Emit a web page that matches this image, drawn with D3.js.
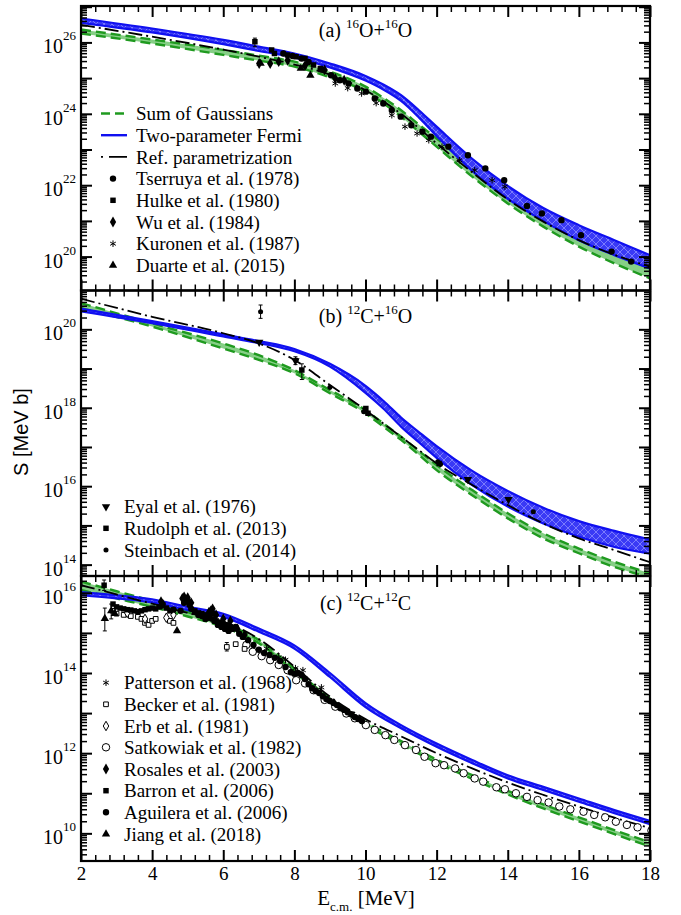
<!DOCTYPE html>
<html>
<head>
<meta charset="utf-8">
<script src="https://cdn.jsdelivr.net/npm/d3@7"></script>
<style>
  body { margin: 0; background: #fff; }
  svg text { font-family: "Liberation Serif", "Times New Roman", serif; fill: #000; }
</style>
</head>
<body>
<svg id="chart" width="681" height="915"></svg>
<script>
// ---- data (energies in MeV, S given as log10 of MeV b) ----
const energyTicks = [2, 4, 6, 8, 10, 12, 14, 16, 18];

// panel (a) 16O+16O
const logRangeA = [19.05, 27.02];
const curveEA = [2, 4, 6, 7, 8, 9, 10, 10.5, 11, 11.5, 12, 13, 14, 15, 16, 17, 18];
const fermiHiA = [26.67, 26.39, 26.07, 25.88, 25.69, 25.41, 25.06, 24.82, 24.52, 24.10, 23.64, 22.74, 21.98, 21.36, 20.88, 20.46, 20.04];
const fermiLoA = [26.55, 26.28, 25.95, 25.76, 25.58, 25.30, 24.93, 24.68, 24.36, 23.90, 23.38, 22.40, 21.62, 21.00, 20.46, 20.04, 19.67];
const gaussHiA = [26.36, 26.08, 25.79, 25.63, 25.46, 25.18, 24.76, 24.45, 24.10, 23.70, 23.31, 22.52, 21.77, 21.12, 20.56, 20.09, 19.67];
const gaussLoA = [26.25, 25.97, 25.65, 25.49, 25.32, 25.02, 24.62, 24.30, 23.92, 23.50, 23.08, 22.24, 21.49, 20.84, 20.28, 19.81, 19.39];
const refA = [26.49, 26.16, 25.80, 25.60, 25.38, 25.10, 24.66, 24.35, 24.00, 23.60, 23.17, 22.36, 21.60, 20.98, 20.46, 20.05, 19.72];

const tserruya = [[7.69,25.69],[7.95,25.62],[8.2,25.55],[8.4,25.45],[8.75,25.25],[9.03,25.08],[9.28,24.94],[9.52,24.85],[9.77,24.71],[10.01,24.62],[10.26,24.43],[10.5,24.29],[10.74,24.10],[10.99,23.92],[11.29,23.68],[11.6,23.50],[11.84,23.36],[12.33,23.08],[12.88,22.84],[13.37,22.47],[13.9,22.14],[14.54,21.42],[14.96,21.21],[15.51,21.02],[16.06,20.60],[16.92,20.14],[17.47,19.86]];
const hulke = [[6.89,26.02],[7.36,25.79],[7.44,25.69],[7.81,25.65],[8.05,25.60],[8.3,25.55],[8.54,25.37],[8.73,25.27]];
const wu = [[7.01,25.41],[7.32,25.41],[7.56,25.46],[7.81,25.50],[8.3,25.35],[8.85,25.23],[9.15,24.99],[9.4,24.94]];
const kuronen = [[9.15,24.85],[9.5,24.72],[9.89,24.57],[10.3,24.30],[10.74,23.96],[11.11,23.64],[11.45,23.45],[11.78,23.26],[12.15,23.08],[12.64,22.70],[13.07,22.42],[13.56,22.14],[13.92,21.96]];
const duarte = [[7.05,25.41],[8.18,25.27],[8.45,25.08]];
const errorsA = [[6.89, 25.88, 26.12]];

// panel (b) 12C+16O
const logRangeB = [13.71, 20.99];
const curveEB = [2, 4, 6, 7, 8, 9, 10, 10.5, 11, 11.5, 12, 13, 14, 15, 16, 17, 18];
const fermiHiB = [20.53, 20.21, 19.87, 19.70, 19.50, 19.12, 18.56, 18.18, 17.75, 17.38, 17.02, 16.39, 15.88, 15.45, 15.11, 14.86, 14.64];
const fermiLoB = [20.46, 20.16, 19.82, 19.65, 19.44, 19.05, 18.38, 17.98, 17.52, 17.12, 16.72, 16.03, 15.48, 15.05, 14.71, 14.45, 14.28];
const gaussHiB = [20.67, 20.15, 19.64, 19.34, 18.96, 18.45, 17.94, 17.60, 17.26, 16.90, 16.54, 15.90, 15.31, 14.80, 14.41, 14.07, 13.78];
const gaussLoB = [20.54, 20.07, 19.51, 19.22, 18.88, 18.37, 17.86, 17.52, 17.18, 16.80, 16.41, 15.77, 15.18, 14.67, 14.29, 13.94, 13.67];
const refB = [20.78, 20.32, 19.90, 19.64, 19.22, 18.58, 17.94, 17.60, 17.26, 16.92, 16.58, 16.03, 15.52, 15.05, 14.67, 14.37, 14.06];

const eyal = [[7.01,19.67],[8.03,19.20],[12.88,16.17],[14.02,15.66]];
const rudolph = [[8.21,18.96],[10.01,17.98],[10.07,17.86],[12.07,16.58]];
const steinbach = [[7.05,20.45],[8.05,19.22],[9.0,18.52],[9.95,17.90],[12.03,16.62],[12.11,16.56],[14.72,15.35]];
const errorsB = [[7.05, 20.28, 20.62], [8.21, 18.72, 19.12], [8.03, 19.1, 19.3]];

// panel (c) 12C+12C
const logRangeC = [9.31, 16.42];
const curveEC = [2, 3, 4, 5, 6, 7, 8, 9, 10, 11, 12, 13, 14, 15, 16, 17, 18];
const fermiHiC = [16.02, 15.94, 15.84, 15.65, 15.48, 15.11, 14.69, 14.00, 13.25, 12.70, 12.24, 11.83, 11.45, 11.16, 10.87, 10.58, 10.31];
const fermiLoC = [15.94, 15.86, 15.76, 15.57, 15.40, 15.03, 14.61, 13.90, 13.15, 12.62, 12.16, 11.75, 11.37, 11.08, 10.79, 10.50, 10.23];
const gaussHiC = [16.28, 16.04, 15.80, 15.52, 15.24, 14.82, 14.11, 13.36, 12.78, 12.30, 11.84, 11.45, 11.06, 10.72, 10.40, 10.08, 9.78];
const gaussLoC = [16.07, 15.86, 15.65, 15.41, 15.15, 14.74, 14.03, 13.28, 12.70, 12.22, 11.76, 11.36, 10.97, 10.62, 10.30, 9.98, 9.67];
const refC = [16.19, 15.96, 15.73, 15.50, 15.28, 14.85, 14.16, 13.41, 12.85, 12.42, 12.00, 11.62, 11.27, 10.96, 10.67, 10.39, 10.13];

const patterson = [[7.22,14.61],[7.56,14.39],[7.75,14.33],[8.03,14.12],[8.24,14.07],[8.76,13.64]];
const becker = [[2.9,15.55],[3.0,15.48],[3.2,15.45],[3.4,15.42],[3.6,15.40],[3.7,15.35],[3.8,15.25],[3.9,15.20],[4.0,15.30],[4.1,15.35],[4.5,15.30],[4.6,15.25],[6.1,14.65],[6.35,14.72],[6.6,14.60]];
const erb = [[3.3,15.50],[3.8,15.35],[4.4,15.38],[4.6,15.45]];
const satkowiak = [[6.65,14.70],[6.83,14.53],[7.08,14.42],[7.32,14.32],[7.56,14.20],[7.81,14.07],[8.05,13.82],[8.3,13.74],[8.54,13.57],[8.85,13.33],[9.15,13.16],[9.46,12.99],[9.7,12.87],[10.01,12.70],[10.26,12.58],[10.56,12.45],[10.81,12.33],[11.11,12.20],[11.42,12.08],[11.66,11.91],[11.97,11.75],[12.21,11.70],[12.52,11.62],[12.76,11.50],[13.07,11.37],[13.31,11.29],[13.68,11.15],[13.92,11.10],[14.23,11.00],[14.54,10.91],[14.84,10.83],[15.15,10.77],[15.45,10.67],[15.76,10.60],[16.13,10.54],[16.43,10.46],[16.74,10.40],[17.04,10.29],[17.35,10.21],[17.65,10.15],[18.04,10.07]];
const rosales = [[4.25,15.78],[4.3,15.72],[4.85,15.86],[4.9,15.90],[5.0,15.88],[5.1,15.75],[5.6,15.52],[5.65,15.55],[5.7,15.60],[5.8,15.45],[6.0,15.35],[6.2,15.30],[6.4,15.10],[6.6,14.95]];
const barron = [[2.65,16.19],[2.9,15.72],[3.0,15.65],[3.1,15.62],[3.2,15.60],[3.3,15.58],[3.4,15.57],[3.5,15.55],[3.6,15.53],[3.7,15.55],[3.8,15.58],[3.9,15.60],[4.0,15.62],[4.1,15.60],[4.2,15.65],[4.3,15.70],[4.4,15.62],[4.5,15.55],[5.2,15.55],[5.3,15.50],[5.4,15.48],[5.5,15.45],[5.6,15.38],[5.7,15.35],[5.8,15.30],[5.9,15.27],[6.0,15.22],[6.1,15.20],[6.2,15.15],[6.3,15.10]];
const aguilera = [[4.6,15.58],[4.8,15.55],[4.9,15.75],[4.95,15.85],[5.0,15.80],[5.05,15.70],[5.1,15.60],[5.2,15.52],[5.3,15.45],[5.4,15.42],[5.5,15.35],[5.6,15.38],[5.7,15.48],[5.75,15.30],[5.85,15.20],[5.95,15.15],[6.05,15.10],[6.15,15.05],[6.25,15.10],[6.35,15.15],[6.45,14.98],[6.55,14.90],[6.7,14.82],[6.85,14.70],[7.0,14.58],[7.15,14.50],[7.3,14.45],[7.45,14.38],[7.6,14.30],[7.75,14.15],[7.9,14.02],[8.0,13.98],[8.1,14.00],[8.2,13.95],[8.3,13.85],[8.4,13.72],[8.5,13.62],[8.6,13.55],[8.7,13.50],[8.8,13.42],[8.9,13.35],[9.0,13.30],[9.1,13.25],[9.2,13.20],[9.3,13.12],[9.4,13.08],[9.5,13.02],[9.6,12.97],[9.7,12.90],[9.8,12.85],[9.9,12.80]];
const jiang = [[2.67,15.36],[2.85,15.55],[2.95,15.48],[4.7,15.05]];
const errorsC = [[2.65, 16.06, 16.32], [2.67, 15.05, 15.62], [2.85, 15.35, 15.72], [6.1, 14.55, 14.76]];

// ---- drawing ----
const svg = d3.select("#chart");
svg.append("rect").attr("width", 681).attr("height", 915).attr("fill", "#fff");

const x = d3.scaleLinear().domain([2, 18]).range([81, 650]);
const xMinor = d3.range(2, 18.001, 0.4).filter(function(v) { return Math.abs(v / 2 - Math.round(v / 2)) > 0.01; });

const defs = svg.append("defs");
const pat = defs.append("pattern").attr("id", "hatch").attr("patternUnits", "userSpaceOnUse")
    .attr("width", 8).attr("height", 8);
pat.append("rect").attr("width", 8).attr("height", 8).attr("fill", "#3a3af5");
pat.append("path").attr("d", "M0,8 L8,0 M0,0 L8,8").attr("stroke", "#8c8cff").attr("stroke-width", 0.8);

const BLUE = "#1010f0", GREEN = "#1f9a1f", GREEN_FILL = "#86cf86";

function sym(type, size) { return d3.symbol().type(type).size(size)(); }

const markers = {
  circle:   { d: sym(d3.symbolCircle, 32), fill: "#000", stroke: "none" },
  square:   { d: sym(d3.symbolSquare, 30), fill: "#000", stroke: "none" },
  diamond:  { d: sym(d3.symbolDiamond, 34), fill: "#000", stroke: "none" },
  asterisk: { d: sym(d3.symbolAsterisk, 30), fill: "none", stroke: "#000" },
  triangle: { d: sym(d3.symbolTriangle, 30), fill: "#000", stroke: "none" },
  tridown:  { d: sym(d3.symbolTriangle, 30), fill: "#000", stroke: "none", rot: 180 },
  osquare:  { d: sym(d3.symbolSquare, 22), fill: "#fff", stroke: "#000" },
  odiamond: { d: sym(d3.symbolDiamond, 26), fill: "#fff", stroke: "#000" },
  ocircle:  { d: sym(d3.symbolCircle, 44), fill: "#fff", stroke: "#000" },
  smallcircle: { d: sym(d3.symbolCircle, 20), fill: "#000", stroke: "none" }
};

function drawMarker(g, kind, px, py) {
  const m = markers[kind];
  g.append("path").attr("d", m.d)
      .attr("transform", "translate(" + px + "," + py + ")" + (m.rot ? " rotate(" + m.rot + ")" : ""))
      .attr("fill", m.fill).attr("stroke", m.stroke).attr("stroke-width", 1);
}

const panels = [
  { id: "a", top: 6, bottom: 290.5, logs: logRangeA, E: curveEA,
    fHi: fermiHiA, fLo: fermiLoA, gHi: gaussHiA, gLo: gaussLoA, ref: refA,
    sets: [["circle", tserruya], ["square", hulke], ["diamond", wu], ["asterisk", kuronen], ["triangle", duarte]],
    errors: errorsA, title: ["(a) ", "16", "O+", "16", "O"], titleY: 37,
    labels: [20, 22, 24, 26] },
  { id: "b", top: 290.5, bottom: 576, logs: logRangeB, E: curveEB,
    fHi: fermiHiB, fLo: fermiLoB, gHi: gaussHiB, gLo: gaussLoB, ref: refB,
    sets: [["tridown", eyal], ["square", rudolph], ["smallcircle", steinbach]],
    errors: errorsB, title: ["(b) ", "12", "C+", "16", "O"], titleY: 323,
    labels: [14, 16, 18, 20] },
  { id: "c", top: 576, bottom: 861, logs: logRangeC, E: curveEC,
    fHi: fermiHiC, fLo: fermiLoC, gHi: gaussHiC, gLo: gaussLoC, ref: refC,
    sets: [["ocircle", satkowiak], ["osquare", becker], ["odiamond", erb], ["square", barron],
           ["circle", aguilera], ["diamond", rosales], ["asterisk", patterson], ["triangle", jiang]],
    errors: errorsC, title: ["(c) ", "12", "C+", "12", "C"], titleY: 610,
    labels: [10, 12, 14, 16] }
];

panels.forEach(function(p) {
  const y = d3.scaleLog().domain([Math.pow(10, p.logs[0]), Math.pow(10, p.logs[1])]).range([p.bottom, p.top]);
  const yl = function(v) { return y(Math.pow(10, v)); };
  const idx = d3.range(p.E.length);

  defs.append("clipPath").attr("id", "clip-" + p.id)
    .append("rect").attr("x", 81).attr("y", p.top).attr("width", 569).attr("height", p.bottom - p.top);

  const g = svg.append("g").attr("clip-path", "url(#clip-" + p.id + ")");

  // green band (sum of Gaussians)
  g.append("path").datum(idx)
      .attr("d", d3.area().curve(d3.curveMonotoneX)
        .x(function(i) { return x(p.E[i]); })
        .y0(function(i) { return yl(p.gLo[i]); })
        .y1(function(i) { return yl(p.gHi[i]); }))
      .attr("fill", GREEN_FILL);
  [p.gHi, p.gLo].forEach(function(arr) {
    g.append("path").datum(idx)
        .attr("d", d3.line().curve(d3.curveMonotoneX)
          .x(function(i) { return x(p.E[i]); })
          .y(function(i) { return yl(arr[i]); }))
        .attr("fill", "none").attr("stroke", GREEN).attr("stroke-width", 2.4)
        .attr("stroke-dasharray", "10,5");
  });

  // blue band (two-parameter Fermi)
  g.append("path").datum(idx)
      .attr("d", d3.area().curve(d3.curveMonotoneX)
        .x(function(i) { return x(p.E[i]); })
        .y0(function(i) { return yl(p.fLo[i]); })
        .y1(function(i) { return yl(p.fHi[i]); }))
      .attr("fill", "url(#hatch)");
  [p.fHi, p.fLo].forEach(function(arr) {
    g.append("path").datum(idx)
        .attr("d", d3.line().curve(d3.curveMonotoneX)
          .x(function(i) { return x(p.E[i]); })
          .y(function(i) { return yl(arr[i]); }))
        .attr("fill", "none").attr("stroke", BLUE).attr("stroke-width", 2.2);
  });

  // reference parametrization
  g.append("path").datum(idx)
      .attr("d", d3.line().curve(d3.curveMonotoneX)
        .x(function(i) { return x(p.E[i]); })
        .y(function(i) { return yl(p.ref[i]); }))
      .attr("fill", "none").attr("stroke", "#000").attr("stroke-width", 1.8)
      .attr("stroke-dasharray", "14,4,2,4");

  // error bars
  p.errors.forEach(function(e) {
    g.append("line").attr("x1", x(e[0])).attr("x2", x(e[0]))
        .attr("y1", yl(e[1])).attr("y2", yl(e[2])).attr("stroke", "#000").attr("stroke-width", 1);
    [e[1], e[2]].forEach(function(v) {
      g.append("line").attr("x1", x(e[0]) - 2).attr("x2", x(e[0]) + 2)
          .attr("y1", yl(v)).attr("y2", yl(v)).attr("stroke", "#000").attr("stroke-width", 1);
    });
  });

  // data points
  p.sets.forEach(function(s) {
    s[1].forEach(function(d) { drawMarker(g, s[0], x(d[0]), yl(d[1])); });
  });

  // ticks
  const ax = svg.append("g");
  const majorY = d3.range(Math.ceil(p.logs[0]), Math.floor(p.logs[1]) + 1).map(function(n) { return Math.pow(10, n); });
  const minorY = [];
  d3.range(Math.floor(p.logs[0]), Math.ceil(p.logs[1])).forEach(function(n) {
    d3.range(2, 10).forEach(function(k) {
      const v = k * Math.pow(10, n);
      if (Math.log10(v) > p.logs[0] && Math.log10(v) < p.logs[1]) minorY.push(v);
    });
  });
  function tickGroup(axis, tx, ty, vals, size, width) {
    ax.append("g").attr("transform", "translate(" + tx + "," + ty + ")")
        .call(axis.tickValues(vals).tickSize(-size).tickFormat(""))
        .call(function(s) { s.select(".domain").remove(); })
        .selectAll("line").attr("stroke", "#000").attr("stroke-width", width);
  }
  tickGroup(d3.axisLeft(y), 81, 0, majorY, 11, 2);
  tickGroup(d3.axisLeft(y), 81, 0, minorY, 6, 1.5);
  tickGroup(d3.axisRight(y), 650, 0, majorY, 11, 2);
  tickGroup(d3.axisRight(y), 650, 0, minorY, 6, 1.5);
  tickGroup(d3.axisTop(x), 0, p.top, energyTicks, 11, 2);
  tickGroup(d3.axisTop(x), 0, p.top, xMinor, 6, 1.5);
  tickGroup(d3.axisBottom(x), 0, p.bottom, energyTicks, 11, 2);
  tickGroup(d3.axisBottom(x), 0, p.bottom, xMinor, 6, 1.5);

  svg.append("rect").attr("x", 81).attr("y", p.top).attr("width", 569).attr("height", p.bottom - p.top)
      .attr("fill", "none").attr("stroke", "#000").attr("stroke-width", 2.2);

  // y tick labels 10^n
  p.labels.forEach(function(n) {
    const t = svg.append("text").attr("x", 76).attr("y", yl(n) + 11)
        .attr("text-anchor", "end").style("font-size", "20px");
    t.append("tspan").text("10");
    t.append("tspan").attr("dy", -13).style("font-size", "13px").text(n);
  });

  // panel title
  const tt = svg.append("text").attr("x", 365.5).attr("y", p.titleY)
      .attr("text-anchor", "middle").style("font-size", "20px");
  tt.append("tspan").text(p.title[0]);
  tt.append("tspan").attr("dy", -9).style("font-size", "13px").text(p.title[1]);
  tt.append("tspan").attr("dy", 9).text(p.title[2]);
  tt.append("tspan").attr("dy", -9).style("font-size", "13px").text(p.title[3]);
  tt.append("tspan").attr("dy", 9).text(p.title[4]);
});

// x tick labels
svg.append("g").attr("transform", "translate(0,861)")
    .call(d3.axisBottom(x).tickValues(energyTicks).tickSize(0).tickPadding(6).tickFormat(d3.format("d")))
    .call(function(s) { s.select(".domain").remove(); })
    .selectAll("text").style("font-size", "19px")
    .style("font-family", "'Liberation Serif', 'Times New Roman', serif");

// axis titles
const xt = svg.append("text").attr("x", 366).attr("y", 905).attr("text-anchor", "middle").style("font-size", "21px");
xt.append("tspan").text("E");
xt.append("tspan").attr("dy", 6).style("font-size", "13px").text("c.m.");
xt.append("tspan").attr("dy", -6).text(" [MeV]");

svg.append("text").attr("transform", "translate(28,432) rotate(-90)")
    .attr("text-anchor", "middle").style("font-size", "20px")
    .style("font-family", "'Liberation Sans', Arial, sans-serif").text("S [MeV b]");

// ---- legends ----
const legA = svg.append("g");
const lineRows = [
  { y: 113.5, text: "Sum of Gaussians", stroke: GREEN, dash: "9,5", w: 2.4 },
  { y: 135.2, text: "Two-parameter Fermi", stroke: BLUE, dash: null, w: 2.4 },
  { y: 156.9, text: "Ref. parametrization", stroke: "#000", dash: "2,6,18", w: 1.8 }
];
lineRows.forEach(function(r) {
  legA.append("line").attr("x1", 101).attr("x2", 127).attr("y1", r.y).attr("y2", r.y)
      .attr("stroke", r.stroke).attr("stroke-width", r.w).attr("stroke-dasharray", r.dash);
  legA.append("text").attr("x", 136).attr("y", r.y).attr("dy", "0.35em").style("font-size", "19px").text(r.text);
});

function legendMarkers(rows, mx, tx) {
  rows.forEach(function(r) {
    drawMarker(svg, r[0], mx, r[1]);
    svg.append("text").attr("x", tx).attr("y", r[1]).attr("dy", "0.35em").style("font-size", "19px").text(r[2]);
  });
}
legendMarkers([
  ["circle", 178.6, "Tserruya et al. (1978)"],
  ["square", 200.3, "Hulke et al. (1980)"],
  ["diamond", 222, "Wu et al. (1984)"],
  ["asterisk", 243.7, "Kuronen et al. (1987)"],
  ["triangle", 265.4, "Duarte et al. (2015)"]
], 113, 136);
legendMarkers([
  ["tridown", 506.7, "Eyal et al. (1976)"],
  ["square", 528.3, "Rudolph et al. (2013)"],
  ["smallcircle", 550, "Steinbach et al. (2014)"]
], 106, 124);
legendMarkers([
  ["asterisk", 682.7, "Patterson et al. (1968)"],
  ["osquare", 704.3, "Becker et al. (1981)"],
  ["odiamond", 726, "Erb et al. (1981)"],
  ["ocircle", 747.3, "Satkowiak et al. (1982)"],
  ["diamond", 769, "Rosales et al. (2003)"],
  ["square", 790.7, "Barron et al. (2006)"],
  ["circle", 812.3, "Aguilera et al. (2006)"],
  ["triangle", 834, "Jiang et al. (2018)"]
], 106, 124);
</script>
</body>
</html>
